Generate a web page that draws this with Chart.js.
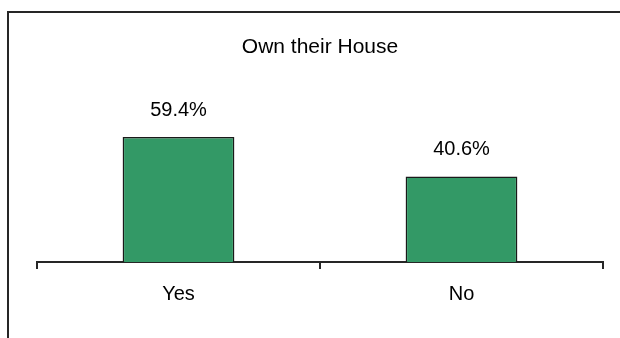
<!DOCTYPE html>
<html>
<head>
<meta charset="utf-8">
<script src="https://cdn.jsdelivr.net/npm/chart.js@4/dist/chart.umd.min.js"></script>
<style>
  html, body { margin: 0; padding: 0; background: #ffffff; }
  #wrap { position: relative; width: 620px; height: 338px; overflow: hidden; background: #fff; }
  #frame { position: absolute; left: 7px; top: 11px; width: 700px; height: 400px;
           border-left: 2px solid #262626; border-top: 2px solid #262626; pointer-events: none; }
  canvas { position: absolute; left: 0; top: 0; }
</style>
</head>
<body>
<div id="wrap">
  <canvas id="c" width="620" height="338"></canvas>
  <div id="frame"></div>
</div>
<script>
const chartTitle = "Own their House";
const categories = ["Yes", "No"];
const values = [59.4, 40.6];
const valueLabels = ["59.4%", "40.6%"];

const FONT = "'Liberation Sans', Arial, sans-serif";

const valueLabelPlugin = {
  id: 'valueLabels',
  afterDatasetsDraw(chart) {
    const ctx = chart.ctx;
    const meta = chart.getDatasetMeta(0);
    ctx.save();
    ctx.font = "20px " + FONT;
    ctx.fillStyle = "#000";
    ctx.textAlign = "center";
    ctx.textBaseline = "middle";
    meta.data.forEach((bar, i) => {
      ctx.fillText(valueLabels[i], bar.x, bar.y - 27);
    });
    ctx.restore();
  }
};

new Chart(document.getElementById('c'), {
  type: 'bar',
  data: {
    labels: categories,
    datasets: [{
      data: values,
      backgroundColor: '#339966',
      borderColor: '#1a1a1a',
      borderWidth: 1.5,
      barPercentage: 1.0,
      categoryPercentage: 0.395
    }]
  },
  options: {
    responsive: false,
    animation: false,
    devicePixelRatio: 1,
    layout: { padding: { left: 37, right: 17, top: 0, bottom: 19 } },
    plugins: {
      legend: { display: false },
      tooltip: { enabled: false },
      title: {
        display: true,
        text: chartTitle,
        color: '#000',
        font: { family: FONT, size: 21, weight: 'normal' },
        padding: { top: 35, bottom: 14.6 }
      }
    },
    scales: {
      x: {
        offset: true,
        grid: { display: true, drawOnChartArea: false, drawTicks: true, tickLength: 7, color: '#262626', lineWidth: 2, offset: true },
        border: { display: true, color: '#262626', width: 2 },
        ticks: { color: '#000', font: { family: FONT, size: 20 }, padding: 13 }
      },
      y: {
        display: false,
        min: 0,
        max: 89
      }
    }
  },
  plugins: [valueLabelPlugin]
});
</script>
</body>
</html>
